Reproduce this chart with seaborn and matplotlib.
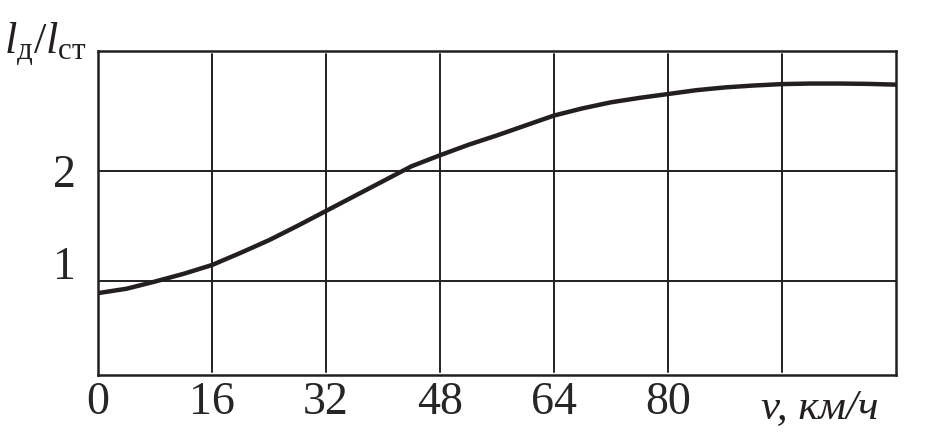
import numpy as np
import pandas as pd
import matplotlib
matplotlib.use('Agg')
import matplotlib.pyplot as plt
import matplotlib.transforms as mtransforms
import seaborn as sns

# data

speed = [0, 4, 8, 12, 16, 20, 24, 28, 32, 36, 40, 44, 48, 52, 56,
         60, 64, 68, 72, 76, 80, 84, 88, 92, 96, 100, 104, 108, 112]
ratio = [0.89, 0.93, 0.995, 1.065, 1.145, 1.255, 1.37, 1.50, 1.635, 1.77,
         1.905, 2.04, 2.14, 2.235, 2.32, 2.41, 2.50, 2.565, 2.62, 2.66,
         2.695, 2.73, 2.755, 2.772, 2.785, 2.79, 2.79, 2.787, 2.78]

x_grid = [16, 32, 48, 64, 80, 96]
x_ticks = [0, 16, 32, 48, 64, 80]
x_ticklabels = ['0', '16', '32', '48', '64', '80']
y_ticks = [1, 2]
y_ticklabels = ['1', '2']

df = pd.DataFrame({'v': speed, 'l': ratio})

# style

sns.set_style('white')
plt.rcParams['font.family'] = ['Liberation Serif', 'DejaVu Serif']
plt.rcParams['mathtext.fontset'] = 'custom'
plt.rcParams['mathtext.rm'] = 'Liberation Serif'
plt.rcParams['mathtext.it'] = 'Liberation Serif:italic'

ink = '#231f20'

fig = plt.figure(figsize=(9.49, 4.42), dpi=100)
ax = fig.add_axes([98 / 949, 1 - 375 / 442, 798 / 949, 324 / 442])

# grid
for xv in x_grid:
    ax.axvline(xv, ymin=0.008, ymax=0.99, color=ink, lw=1.4, zorder=1)
for yv in y_ticks:
    ax.axhline(yv, color=ink, lw=1.4, zorder=1)

# curve
sns.lineplot(data=df, x='v', y='l', ax=ax, color=ink, lw=3.2, zorder=3)

ax.set_xlim(0, 112)
ax.set_ylim(0.148, 3.085)

ax.set_xticks(x_ticks)
ax.set_xticklabels(x_ticklabels, fontsize=33)
ax.set_yticks(y_ticks)
ax.set_yticklabels(y_ticklabels, fontsize=33)
ax.tick_params(axis='x', length=0, pad=5)
ax.tick_params(axis='y', length=0, pad=16)
ax.set_xlabel('')
ax.set_ylabel('')

for s in ax.spines.values():
    s.set_color(ink)
    s.set_linewidth(1.8)

# the "1" label sits a bit above its grid line in the original
lbl = ax.get_yticklabels()[0]
lbl.set_transform(lbl.get_transform() +
                  mtransforms.ScaledTranslation(0, 18 / 100, fig.dpi_scale_trans))

# axis titles
ax.text(93.0, -43 / 324, 'v, км/ч', transform=ax.get_xaxis_transform(),
        fontsize=31, style='italic', ha='left', va='baseline', color=ink)
fig.text(4 / 949, 1 - 53 / 442, r'$l_{\mathrm{д}}/l_{\mathrm{ст}}$',
         fontsize=32, ha='left', va='baseline', color=ink)

fig.savefig('out.png', dpi=100)
